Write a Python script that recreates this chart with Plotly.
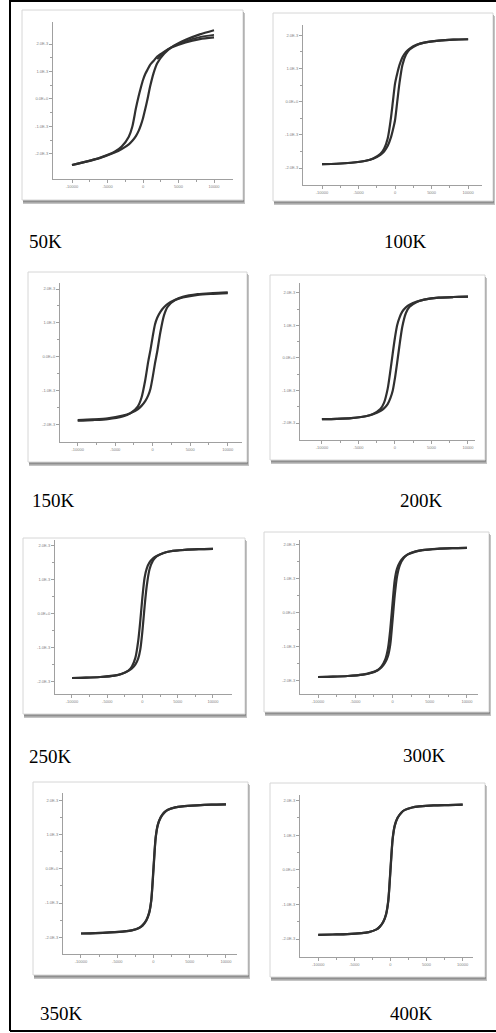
import plotly.graph_objects as go

W, HGT = 496, 1033

# ---------------- data ----------------
H_FIELD = [-10000, -8000, -6000, -4000, -3000, -2000, -1500, -1000, -600, -300, 0,
           300, 600, 1000, 1500, 2000, 3000, 4000, 6000, 8000, 10000]

TEMPS = ["50K", "100K", "150K", "200K", "250K", "300K", "350K", "400K"]

M_50K_DOWN = [-2.40, -2.28, -2.13, -1.92, -1.73, -1.37, -1.00, -0.34, 0.12, 0.42, 0.69,
              0.90, 1.05, 1.24, 1.39, 1.54, 1.72, 1.87, 2.06, 2.18, 2.24]
M_50K_UP = [-2.40, -2.28, -2.14, -1.95, -1.82, -1.65, -1.52, -1.35, -1.15, -0.95, -0.70,
            -0.38, -0.05, 0.45, 0.95, 1.30, 1.65, 1.88, 2.15, 2.35, 2.50]
H_50K_EXTRA = [2000, 3000, 4000, 6000, 8000, 10000]
M_50K_EXTRA = [1.45, 1.70, 1.88, 2.10, 2.25, 2.33]

M_100K_DOWN = [-1.88, -1.87, -1.84, -1.78, -1.71, -1.57, -1.42, -1.10, -0.55, 0.00, 0.55,
               0.85, 1.10, 1.33, 1.50, 1.60, 1.72, 1.78, 1.84, 1.87, 1.88]
M_100K_UP = [-1.88, -1.87, -1.84, -1.78, -1.72, -1.60, -1.50, -1.33, -1.10, -0.85, -0.55,
             0.00, 0.55, 1.10, 1.42, 1.57, 1.71, 1.78, 1.84, 1.87, 1.88]

M_150K_DOWN = [-1.90, -1.88, -1.85, -1.77, -1.68, -1.48, -1.22, -0.70, -0.15, 0.20, 0.60,
               0.95, 1.15, 1.32, 1.46, 1.56, 1.68, 1.75, 1.83, 1.86, 1.88]
M_150K_UP = [-1.88, -1.86, -1.83, -1.75, -1.68, -1.56, -1.46, -1.32, -1.15, -0.95, -0.60,
             -0.20, 0.15, 0.70, 1.22, 1.48, 1.68, 1.77, 1.85, 1.88, 1.90]

M_200K_DOWN = [-1.88, -1.87, -1.85, -1.79, -1.72, -1.57, -1.38, -0.95, -0.35, 0.15, 0.62,
               1.00, 1.22, 1.42, 1.55, 1.63, 1.73, 1.79, 1.85, 1.87, 1.88]
M_200K_UP = [-1.88, -1.87, -1.85, -1.79, -1.73, -1.63, -1.55, -1.42, -1.22, -1.00, -0.62,
             -0.15, 0.35, 0.95, 1.38, 1.57, 1.72, 1.79, 1.85, 1.87, 1.88]

M_250K_DOWN = [-1.90, -1.89, -1.87, -1.83, -1.78, -1.68, -1.56, -1.30, -0.80, -0.20, 0.50,
               1.05, 1.32, 1.50, 1.62, 1.69, 1.78, 1.83, 1.87, 1.89, 1.90]
M_250K_UP = [-1.90, -1.89, -1.87, -1.83, -1.78, -1.69, -1.62, -1.50, -1.32, -1.05, -0.50,
             0.20, 0.80, 1.30, 1.56, 1.68, 1.78, 1.83, 1.87, 1.89, 1.90]

M_300K_DOWN = [-1.90, -1.89, -1.87, -1.83, -1.79, -1.70, -1.60, -1.40, -1.05, -0.50, 0.25,
               0.95, 1.28, 1.48, 1.62, 1.70, 1.78, 1.83, 1.87, 1.89, 1.90]
M_300K_UP = [-1.90, -1.89, -1.87, -1.83, -1.78, -1.70, -1.62, -1.48, -1.28, -0.95, -0.25,
             0.50, 1.05, 1.40, 1.60, 1.70, 1.79, 1.83, 1.87, 1.89, 1.90]

M_350K_DOWN = [-1.89, -1.88, -1.86, -1.83, -1.80, -1.73, -1.64, -1.50, -1.28, -0.90, 0.04,
               0.92, 1.30, 1.52, 1.66, 1.73, 1.80, 1.83, 1.86, 1.88, 1.89]
M_350K_UP = [-1.89, -1.88, -1.86, -1.83, -1.80, -1.73, -1.66, -1.52, -1.30, -0.92, -0.04,
             0.90, 1.28, 1.50, 1.64, 1.73, 1.80, 1.83, 1.86, 1.88, 1.89]

M_400K_DOWN = [-1.88, -1.87, -1.86, -1.83, -1.80, -1.73, -1.65, -1.50, -1.27, -0.88, 0.03,
               0.90, 1.29, 1.51, 1.65, 1.73, 1.80, 1.83, 1.86, 1.87, 1.88]
M_400K_UP = [-1.88, -1.87, -1.86, -1.83, -1.80, -1.73, -1.65, -1.51, -1.29, -0.90, -0.03,
             0.88, 1.27, 1.50, 1.65, 1.73, 1.80, 1.83, 1.86, 1.87, 1.88]

BRANCHES = [
    (M_50K_DOWN, M_50K_UP), (M_100K_DOWN, M_100K_UP),
    (M_150K_DOWN, M_150K_UP), (M_200K_DOWN, M_200K_UP),
    (M_250K_DOWN, M_250K_UP), (M_300K_DOWN, M_300K_UP),
    (M_350K_DOWN, M_350K_UP), (M_400K_DOWN, M_400K_UP),
]

X_TICKS = [-10000, -5000, 0, 5000, 10000]
X_TICK_TEXT = ["-10000", "-5000", "0", "5000", "10000"]
X_MINOR = [-7500, -2500, 2500, 7500]
Y_TICKS = [-2, -1, 0, 1, 2]
Y_TICK_TEXT = ["-2.0E-3", "-1.0E-3", "0.0E+0", "1.0E-3", "2.0E-3"]
Y_MINOR = [-1.5, -0.5, 0.5, 1.5]

# ---------------- geometry (pixels) ----------------
GEOM = [
    dict(card=(22, 10, 243, 200), ax=(53, 233, 22, 179), xr=(-12676, 12676), yr=(-2.91, 2.80), lab=(27, 242)),
    dict(card=(273, 13, 493, 201), ax=(303, 482, 25, 185), xr=(-12600, 11900), yr=(-2.51, 2.31), lab=(382, 242)),
    dict(card=(28, 272, 247, 462), ax=(60, 242, 283, 442), xr=(-12360, 11900), yr=(-2.53, 2.18), lab=(30, 500)),
    dict(card=(270, 275, 485, 460), ax=(300, 475, 283, 440), xr=(-13000, 10960), yr=(-2.52, 2.30), lab=(398, 500)),
    dict(card=(23, 538, 245, 714), ax=(55, 232, 540, 694), xr=(-12410, 12700), yr=(-2.37, 2.16), lab=(27, 756)),
    dict(card=(264, 532, 489, 712), ax=(300, 478, 540, 694), xr=(-12420, 11480), yr=(-2.40, 2.13), lab=(401, 755)),
    dict(card=(33, 782, 248, 975), ax=(63, 237, 793, 954), xr=(-12480, 11520), yr=(-2.49, 2.22), lab=(38, 1013)),
    dict(card=(270, 783, 485, 977), ax=(300, 473, 795, 957), xr=(-12530, 11430), yr=(-2.52, 2.16), lab=(388, 1013)),
]


def px(x):
    return x / W


def py(y):
    return 1 - y / HGT


LINE_COLOR = "#303030"
AXIS_COLOR = "#a0a0a0"

fig = go.Figure()
shapes = []
annotations = []
layout_axes = {}

for i, (g, (mdown, mup)) in enumerate(zip(GEOM, BRANCHES)):
    n = "" if i == 0 else str(i + 1)
    xref, yref = "x" + n, "y" + n
    for m in (mdown, mup):
        fig.add_trace(go.Scatter(
            x=H_FIELD, y=m, mode="lines", xaxis=xref, yaxis=yref,
            line=dict(color=LINE_COLOR, width=2.2, shape="spline", smoothing=0.7),
            hoverinfo="skip", showlegend=False))
    if i == 0:
        fig.add_trace(go.Scatter(
            x=H_50K_EXTRA, y=M_50K_EXTRA, mode="lines", xaxis=xref, yaxis=yref,
            line=dict(color=LINE_COLOR, width=1.8, shape="spline", smoothing=0.7),
            hoverinfo="skip", showlegend=False))

    ax0, ax1, ayt, ayb = g["ax"]
    common = dict(showline=True, linecolor=AXIS_COLOR, linewidth=1, showgrid=False, zeroline=False,
                  ticks="outside", ticklen=3, tickcolor=AXIS_COLOR, tickwidth=1,
                  tickfont=dict(size=4, color="#808080", family="Arial"), fixedrange=True)
    layout_axes["xaxis" + n] = dict(
        domain=[px(ax0), px(ax1)], anchor=yref, range=list(g["xr"]),
        tickvals=X_TICKS, ticktext=X_TICK_TEXT,
        minor=dict(tickvals=X_MINOR, ticks="outside", ticklen=2, tickcolor=AXIS_COLOR), **common)
    layout_axes["yaxis" + n] = dict(
        domain=[py(ayb), py(ayt)], anchor=xref, range=list(g["yr"]),
        tickvals=Y_TICKS, ticktext=Y_TICK_TEXT,
        minor=dict(tickvals=Y_MINOR, ticks="outside", ticklen=2, tickcolor=AXIS_COLOR), **common)

    cx0, cy0, cx1, cy1 = g["card"]
    shapes.append(dict(type="rect", xref="paper", yref="paper", layer="below",
                       x0=px(cx0 + 1), x1=px(cx1 + 2), y0=py(cy1 + 4), y1=py(cy0 + 3),
                       fillcolor="#c4c4c4", line=dict(width=0)))
    shapes.append(dict(type="rect", xref="paper", yref="paper", layer="below",
                       x0=px(cx0 + 1), x1=px(cx1 + 1), y0=py(cy1 + 2.5), y1=py(cy0 + 2),
                       fillcolor="#8f8f8f", line=dict(width=0)))
    shapes.append(dict(type="rect", xref="paper", yref="paper", layer="below",
                       x0=px(cx0), x1=px(cx1), y0=py(cy1), y1=py(cy0),
                       fillcolor="#ffffff", line=dict(color="#d6d6d6", width=1)))

    lx, ly = g["lab"]
    annotations.append(dict(text=TEMPS[i], xref="paper", yref="paper", x=px(lx), y=py(ly),
                            xanchor="left", yanchor="middle", showarrow=False,
                            font=dict(family="Liberation Serif", size=19, color="#000000")))

# outer frame (left, top, bottom)
for (x0, y0, x1, y1) in [(10, 0, 10, 1031), (10, 1, 496, 1), (10, 1031, 496, 1031)]:
    shapes.append(dict(type="line", xref="paper", yref="paper", layer="above",
                       x0=px(x0), y0=py(y0), x1=px(x1), y1=py(y1),
                       line=dict(color="#000000", width=2)))

fig.update_layout(
    width=W, height=HGT, margin=dict(l=0, r=0, t=0, b=0),
    paper_bgcolor="#ffffff", plot_bgcolor="rgba(0,0,0,0)",
    showlegend=False, shapes=shapes, annotations=annotations, **layout_axes)

fig.write_html("out.html")
